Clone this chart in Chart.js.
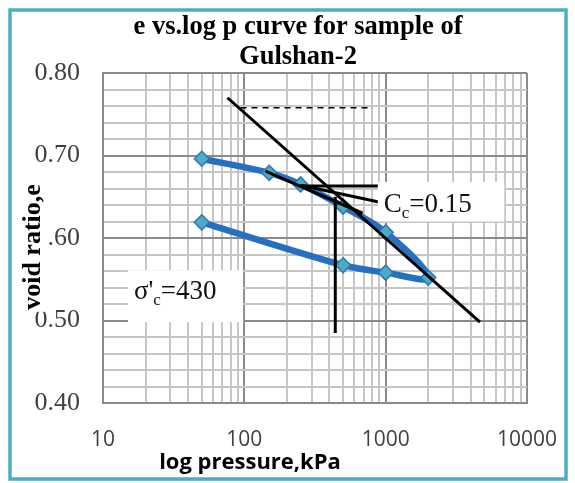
<!DOCTYPE html>
<html>
<head>
<meta charset="utf-8">
<script src="https://cdn.jsdelivr.net/npm/chart.js@4.4.1/dist/chart.umd.min.js"></script>
<style>
html,body{margin:0;padding:0;background:#fff;}
#wrap{width:575px;height:483px;}
</style>
</head>
<body>
<div id="wrap"><canvas id="c" width="575" height="483"></canvas></div>
<script>
// ---- data ----
const pressure  = [50, 150, 250, 500, 1000, 2000, 1000, 500, 50];          // kPa (loading then unloading)
const voidRatio = [0.696, 0.679, 0.665, 0.638, 0.607, 0.552, 0.558, 0.567, 0.619];

// construction lines (Casagrande method)
const ccLineP   = [76, 4650];   const ccLineE   = [0.770, 0.498];
const dashP     = [94, 810];    const dashE     = [0.758, 0.758];
const horizP    = [250, 900];   const horizE    = [0.663, 0.663];
const tangentP  = [141, 687];   const tangentE  = [0.681, 0.630];
const bisectP   = [250, 930];   const bisectE   = [0.664, 0.643];
const sigmaP    = [440, 440];   const sigmaE    = [0.650, 0.485];

const xTickValues = [10,20,30,40,50,60,70,80,90,100,200,300,400,500,600,700,800,900,
                     1000,2000,3000,4000,5000,6000,7000,8000,9000,10000];
const xTickLabels = ['10','100','1000','10000'];
const yTickLabels = ['0.40','0.50','0.60','0.70','0.80'];

const titleLines = ['e vs.log p curve for sample of', 'Gulshan-2'];
const xTitle = 'log pressure,kPa';
const yTitle = 'void ratio,e';
const ccText = ['C', 'c', '=0.15'];
const sigmaText = ['σ', "'", 'c', '=430'];

// ---- helpers ----
const pts = (px, py) => px.map((v, i) => ({x: v, y: py[i]}));
const isMajorX = v => xTickLabels.includes(String(v));
const isMajorY = v => yTickLabels.includes(Number(v).toFixed(2));

const blackLine = (px, py, extra) => Object.assign({
  data: pts(px, py), showLine: true, borderColor: '#000', borderWidth: 3,
  pointRadius: 0, pointHoverRadius: 0, tension: 0, order: 0, fill: false
}, extra || {});

// shift titles to where the reference places them
const shiftTitles = {
  id: 'shiftTitles',
  afterUpdate(chart) {
    const ys = chart.scales.y, xs = chart.scales.x, tb = chart.titleBlock;
    if (ys && !ys._wrappedTitle) {
      const orig = ys.drawTitle.bind(ys);
      ys.drawTitle = function () {
        const ctx = this.ctx, o = this.options.title;
        const size = o.font.size;
        ctx.save();
        ctx.translate(0, 9);
        ctx.font = `${o.font.weight} ${size}px ${o.font.family}`;
        const w = ctx.measureText(o.text).width;
        const cx = this.left + size / 2;
        const cy = (this.top + this.bottom) / 2;
        ctx.fillStyle = '#fff';
        ctx.fillRect(cx - size / 2 - 1, cy - w / 2 - 2, size + 2, w + 4);
        orig();
        ctx.restore();
      };
      ys._wrappedTitle = true;
    }
    if (xs && !xs._wrappedTitle) {
      const origX = xs.drawTitle.bind(xs);
      xs.drawTitle = function () {
        this.ctx.save();
        this.ctx.translate(-65, 0);
        origX();
        this.ctx.restore();
      };
      xs._wrappedTitle = true;
    }
    if (tb && !tb._wrappedDraw) {
      const origT = tb.draw.bind(tb);
      tb.draw = function () {
        this.ctx.save();
        this.ctx.translate(24.5, 0);
        origT();
        this.ctx.restore();
      };
      tb._wrappedDraw = true;
    }
  }
};

const annotations = {
  id: 'annotations',
  afterDatasetsDraw(chart) {
    const {ctx, scales: {x, y}} = chart;
    const box = (p0, p1, e0, e1) => {
      const l = x.getPixelForValue(p0), r = x.getPixelForValue(p1);
      const t = y.getPixelForValue(e0), b = y.getPixelForValue(e1);
      ctx.fillStyle = '#fff';
      ctx.fillRect(l, t, r - l, b - t);
      return {l, t, r, b};
    };
    const run = (parts, x0, base) => {
      let cx = x0;
      for (const [txt, size, dy] of parts) {
        ctx.font = `${size}px "Liberation Serif"`;
        ctx.fillText(txt, cx, base + dy);
        cx += ctx.measureText(txt).width;
      }
    };
    ctx.save();
    ctx.textAlign = 'left';
    ctx.textBaseline = 'alphabetic';
    const b1 = box(880, 6900, 0.668, 0.620);
    ctx.fillStyle = '#111';
    run([[ccText[0], 27, 0], [ccText[1], 17, 6], [ccText[2], 27, 0]], b1.l + 6, b1.t + 30);
    const b2 = box(15, 98, 0.561, 0.498);
    ctx.fillStyle = '#111';
    run([[sigmaText[0], 27, 0], [sigmaText[1], 27, 0], [sigmaText[2], 17, 6], [sigmaText[3], 27, 0]], b2.l + 6, b2.t + 29);
    ctx.restore();
  }
};

const frame = {
  id: 'frame',
  afterDraw(chart) {
    const ctx = chart.ctx;
    ctx.save();
    ctx.strokeStyle = '#4bacc6';
    ctx.lineWidth = 3.5;
    ctx.strokeRect(10, 10, 556, 469);
    ctx.restore();
  }
};

new Chart(document.getElementById('c'), {
  type: 'scatter',
  data: {
    datasets: [
      blackLine(ccLineP, ccLineE),
      blackLine(dashP, dashE, {borderWidth: 1.5, borderDash: [6, 5]}),
      blackLine(horizP, horizE),
      blackLine(tangentP, tangentE),
      blackLine(bisectP, bisectE),
      blackLine(sigmaP, sigmaE),
      {
        data: pts(pressure, voidRatio),
        showLine: true,
        borderColor: '#2770c0',
        borderWidth: 6.5,
        tension: 0.35,
        pointStyle: 'rectRot',
        pointRadius: 7.5,
        pointHoverRadius: 7.5,
        pointBackgroundColor: '#4bacc6',
        pointBorderColor: '#2e75b6',
        pointBorderWidth: 1.5,
        order: 1,
        fill: false
      }
    ]
  },
  options: {
    responsive: false,
    animation: false,
    devicePixelRatio: 1,
    layout: {padding: {left: 20, right: 48, top: 0, bottom: 0}},
    plugins: {
      legend: {display: false},
      tooltip: {enabled: false},
      title: {
        display: true,
        text: titleLines,
        color: '#000',
        font: {family: '"Liberation Serif"', size: 26.5, weight: 'bold', lineHeight: 1.1},
        padding: {top: 13, bottom: 1.7}
      }
    },
    scales: {
      x: {
        type: 'logarithmic',
        min: 10, max: 10000,
        afterFit: s => { s.height = 80; },
        afterBuildTicks: s => { s.ticks = xTickValues.map(v => ({value: v, major: isMajorX(v)})); },
        ticks: {
          autoSkip: false, maxRotation: 0, padding: 3,
          color: '#404040',
          font: {family: '"Open Sans"', size: 21, lineHeight: 3.24},
          callback: v => isMajorX(v) ? String(v) : ''
        },
        grid: {
          drawTicks: false, lineWidth: 2,
          color: c => (c.tick && isMajorX(c.tick.value)) ? '#8a8a8a' : '#c6c6c6'
        },
        border: {color: '#8a8a8a', width: 2},
        title: {
          display: true, text: xTitle, color: '#000',
          font: {family: '"Open Sans"', size: 22, weight: 'bold', lineHeight: 1.2},
          padding: {top: 0, bottom: 7}
        }
      },
      y: {
        type: 'linear',
        min: 0.4, max: 0.8,
        afterFit: s => { s.width = 83; },
        ticks: {
          stepSize: 0.02, autoSkip: false, padding: 23, z: -2,
          color: '#404040',
          font: {family: '"Liberation Serif"', size: 26, lineHeight: 1.2},
          callback: v => isMajorY(v) ? Number(v).toFixed(2) : ''
        },
        grid: {
          drawTicks: false, lineWidth: 2,
          color: c => (c.tick && isMajorY(c.tick.value)) ? '#8a8a8a' : '#c6c6c6'
        },
        border: {color: '#8a8a8a', width: 2},
        title: {
          display: true, text: yTitle, color: '#000',
          font: {family: '"Liberation Serif"', size: 26, weight: 'bold', lineHeight: 1},
          padding: 0
        }
      }
    }
  },
  plugins: [shiftTitles, annotations, frame]
});
</script>
</body>
</html>
